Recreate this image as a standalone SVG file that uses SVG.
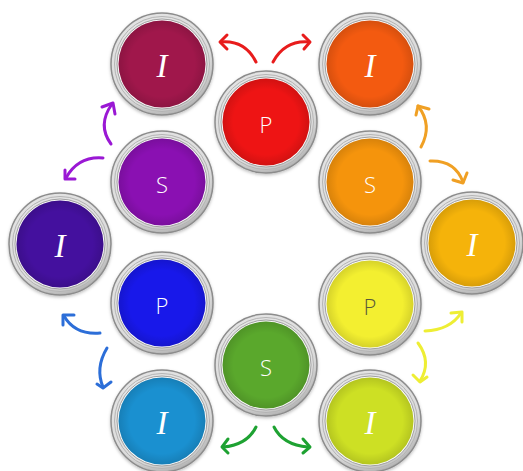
<svg xmlns="http://www.w3.org/2000/svg" xmlns:xlink="http://www.w3.org/1999/xlink" width="523" height="471" viewBox="0 0 523 471">
<defs>
  <radialGradient id="silver" cx="0.45" cy="0.4" r="0.65">
    <stop offset="0" stop-color="#f4f4f4"/>
    <stop offset="0.8" stop-color="#dcdcdc"/>
    <stop offset="1" stop-color="#9a9a9a"/>
  </radialGradient>
  <radialGradient id="shade" cx="0.5" cy="0.5" r="0.5">
    <stop offset="0.75" stop-color="#000" stop-opacity="0"/>
    <stop offset="1" stop-color="#000" stop-opacity="0.12"/>
  </radialGradient>
  <filter id="sh" x="-20%" y="-20%" width="140%" height="140%">
    <feDropShadow dx="0" dy="1.5" stdDeviation="1.5" flood-color="#000" flood-opacity="0.25"/>
  </filter>
  <g id="pot">
    <circle r="51" fill="url(#silver)" stroke="#8c8c8c" stroke-width="1.5" filter="url(#sh)"/>
    <circle r="47.5" fill="none" stroke="#b4b4b4" stroke-width="1"/>
    <circle r="45" fill="#fafafa" stroke="#a0a0a0" stroke-width="1"/>
  </g>
</defs>
<style>
  .fill{stroke:none}
  .ov{fill:url(#shade)}
  .i{font-family:"Liberation Serif","DejaVu Serif",serif;font-style:italic;font-size:33px;fill:#fff;text-anchor:middle}
  .l{font-family:"Open Sans","DejaVu Sans",sans-serif;font-weight:300;font-size:22px;fill:#fff;text-anchor:middle}
  .arr path,.arr polyline{fill:none;stroke-width:3;stroke-linecap:round;stroke-linejoin:round}
</style>
<rect width="523" height="471" fill="#fff"/>

<g id="n-i-tl"><use xlink:href="#pot" x="162" y="64"/><circle class="fill" cx="162" cy="64" r="43.5" fill="#a0174b"/><circle class="ov" cx="162" cy="64" r="43.5"/><text class="i" x="162" y="77">I</text></g>
<g id="n-p-top"><use xlink:href="#pot" x="266" y="122"/><circle class="fill" cx="266" cy="122" r="43.5" fill="#ee1414"/><circle class="ov" cx="266" cy="122" r="43.5"/><text class="l" x="266" y="133">P</text></g>
<g id="n-i-tr"><use xlink:href="#pot" x="370" y="64"/><circle class="fill" cx="370" cy="64" r="43.5" fill="#f35a10"/><circle class="ov" cx="370" cy="64" r="43.5"/><text class="i" x="370" y="77">I</text></g>
<g id="n-s-r"><use xlink:href="#pot" x="370" y="182"/><circle class="fill" cx="370" cy="182" r="43.5" fill="#f5940c"/><circle class="ov" cx="370" cy="182" r="43.5"/><text class="l" x="370" y="193">S</text></g>
<g id="n-i-r"><use xlink:href="#pot" x="472" y="243"/><circle class="fill" cx="472" cy="243" r="43.5" fill="#f5b30a"/><circle class="ov" cx="472" cy="243" r="43.5"/><text class="i" x="472" y="256">I</text></g>
<g id="n-p-r"><use xlink:href="#pot" x="370" y="304"/><circle class="fill" cx="370" cy="304" r="43.5" fill="#f3ef30"/><circle class="ov" cx="370" cy="304" r="43.5"/><text class="l" x="370" y="315" style="fill:#5a5a3a">P</text></g>
<g id="n-i-br"><use xlink:href="#pot" x="370" y="421"/><circle class="fill" cx="370" cy="421" r="43.5" fill="#cde024"/><circle class="ov" cx="370" cy="421" r="43.5"/><text class="i" x="370" y="434">I</text></g>
<g id="n-s-b"><use xlink:href="#pot" x="266" y="365"/><circle class="fill" cx="266" cy="365" r="43.5" fill="#5aa82c"/><circle class="ov" cx="266" cy="365" r="43.5"/><text class="l" x="266" y="376">S</text></g>
<g id="n-i-bl"><use xlink:href="#pot" x="162" y="421"/><circle class="fill" cx="162" cy="421" r="43.5" fill="#1a90d0"/><circle class="ov" cx="162" cy="421" r="43.5"/><text class="i" x="162" y="434">I</text></g>
<g id="n-p-l"><use xlink:href="#pot" x="162" y="303"/><circle class="fill" cx="162" cy="303" r="43.5" fill="#1818ea"/><circle class="ov" cx="162" cy="303" r="43.5"/><text class="l" x="162" y="314">P</text></g>
<g id="n-i-l"><use xlink:href="#pot" x="60" y="244"/><circle class="fill" cx="60" cy="244" r="43.5" fill="#44109e"/><circle class="ov" cx="60" cy="244" r="43.5"/><text class="i" x="60" y="257">I</text></g>
<g id="n-s-l"><use xlink:href="#pot" x="162" y="182"/><circle class="fill" cx="162" cy="182" r="43.5" fill="#8a10b2"/><circle class="ov" cx="162" cy="182" r="43.5"/><text class="l" x="162" y="193">S</text></g>

<g id="connectors" class="arr">
  <g stroke="#e81c1c">
    <path d="M256,62 Q245,40 221,42"/><polyline points="227,35 220,42 227,49"/>
    <path d="M273,62 Q285,40 309,42"/><polyline points="303,35 310,42 304,49"/>
  </g>
  <g stroke="#9a18d4">
    <path d="M111,144 Q97,125 112,104"/><polyline points="102,107 113,103 115,114"/>
    <path d="M103,158 Q78,156 66,178"/><polyline points="65,170 65,179 75,179"/>
  </g>
  <g stroke="#f0a024">
    <path d="M421,147 Q433,125 418,106"/><polyline points="416,115 418,106 429,109"/>
    <path d="M430,161 Q455,160 463,182"/><polyline points="453,180 463,183 467,173"/>
  </g>
  <g stroke="#2c6ed8">
    <path d="M100,333 Q75,335 64,316"/><polyline points="63,325 63,315 74,315"/>
    <path d="M107,348 Q95,368 103,387"/><polyline points="97,384 103,388 111,382"/>
  </g>
  <g stroke="#eeee34">
    <path d="M425,331 Q450,330 461,313"/><polyline points="451,313 462,312 462,322"/>
    <path d="M418,343 Q432,362 420,381"/><polyline points="413,375 420,382 427,377"/>
  </g>
  <g stroke="#1ea232">
    <path d="M256,427 Q247,445 223,447"/><polyline points="228,439 222,447 228,453"/>
    <path d="M274,427 Q283,445 308,447"/><polyline points="303,439 310,447 303,453"/>
  </g>
</g>
</svg>
